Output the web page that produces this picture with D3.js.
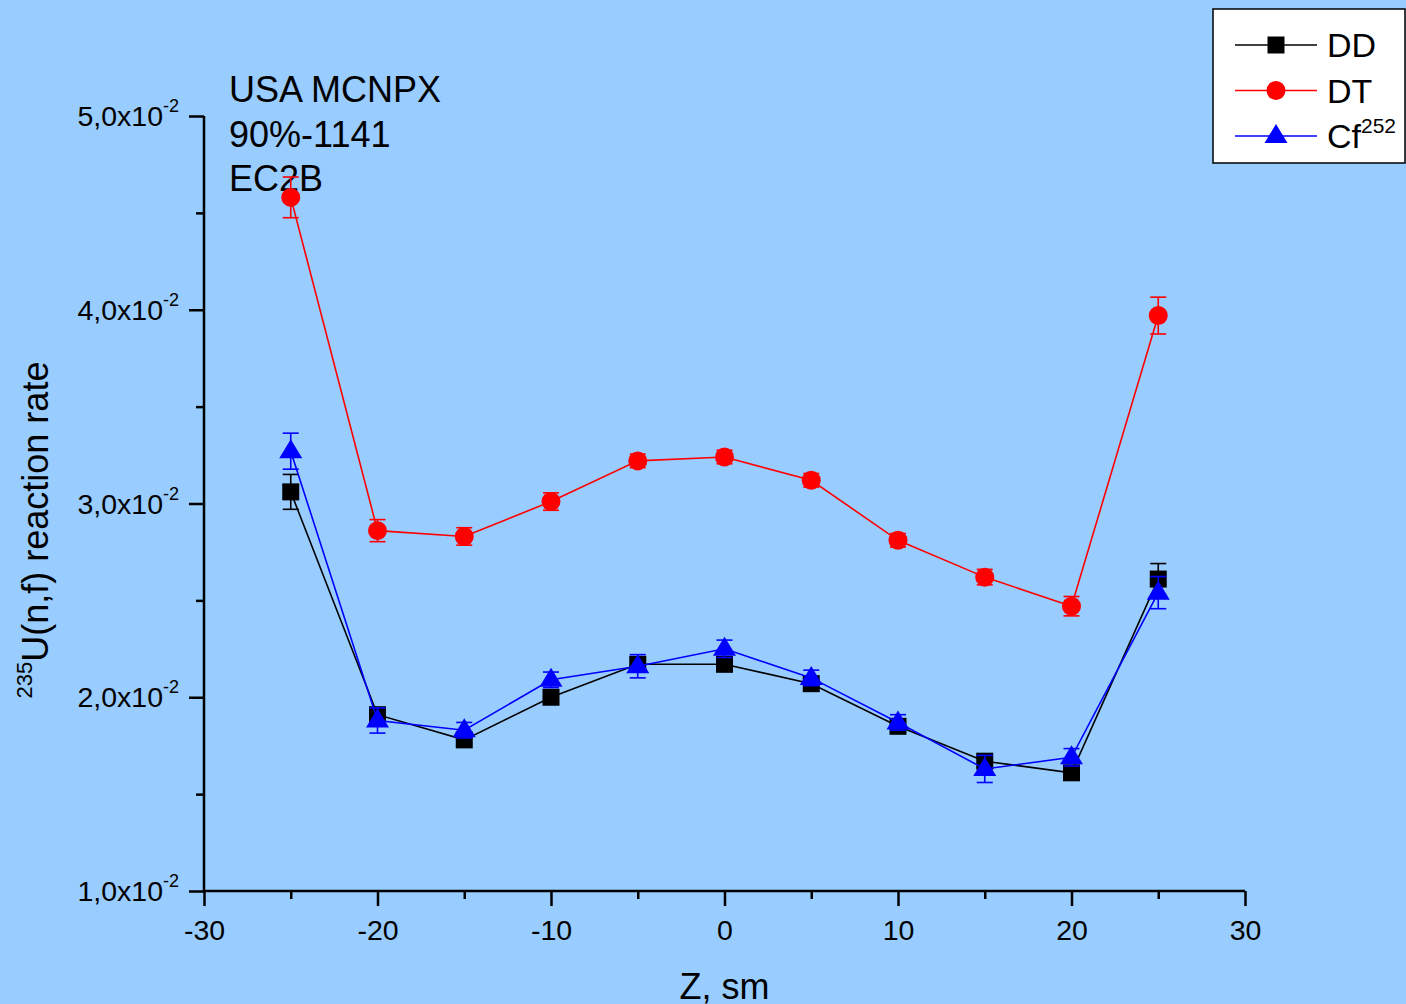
<!DOCTYPE html>
<html><head><meta charset="utf-8">
<script src="https://cdn.jsdelivr.net/npm/d3@7"></script>
<style>body{margin:0;background:#99ccff;}svg{display:block;font-family:"Liberation Sans",Arial,sans-serif;}</style>
</head><body>
<svg id="c" width="1406" height="1004"></svg>
<script>
const zPositions = [-25,-20,-15,-10,-5,0,5,10,15,20,25];
const ddValues = [3.06,1.91,1.78,2.00,2.17,2.17,2.07,1.85,1.67,1.61,2.61];
const ddErrors = [0.09,0.03,0.02,0.02,0.02,0.02,0.02,0.03,0.03,0.02,0.08];
const dtValues = [4.58,2.86,2.83,3.01,3.22,3.24,3.12,2.81,2.62,2.47,3.97];
const dtErrors = [0.105,0.057,0.045,0.045,0.035,0.035,0.035,0.035,0.04,0.05,0.095];
const cfValues = [3.27,1.88,1.83,2.09,2.16,2.25,2.10,1.87,1.63,1.69,2.54];
const cfErrors = [0.093,0.065,0.04,0.04,0.06,0.045,0.04,0.04,0.07,0.045,0.083];
const xTicks = [-30,-20,-10,0,10,20,30];
const yTicks = [1,2,3,4,5];
const yTickLabels = ["1,0x10","2,0x10","3,0x10","4,0x10","5,0x10"];
const annotation = ["USA MCNPX","90%-1141","EC2B"];
const seriesNames = ["DD","DT","Cf"];

const svg = d3.select("#c");
svg.append("rect").attr("width",1406).attr("height",1004).attr("fill","#99ccff");
const x = d3.scaleLinear().domain([-30,30]).range([204,1245]);
const y = d3.scaleLinear().domain([1,5]).range([891,116]);

// axes
const gx = svg.append("g").attr("transform","translate(0,891)")
  .call(d3.axisBottom(x).tickValues(d3.range(-25,30,10)).tickSize(8).tickFormat(""));
const gx2 = svg.append("g").attr("transform","translate(0,891)")
  .call(d3.axisBottom(x).tickValues(xTicks).tickSize(15).tickPadding(8).tickFormat(d=>String(d)));
gx2.selectAll("text").attr("font-size",28.5).attr("fill","#000").attr("font-family","Liberation Sans, Arial").attr("dy","0.9em");
[gx,gx2].forEach(g=>{g.select(".domain").remove();g.selectAll("line").attr("stroke","#000").attr("stroke-width",2.5);});
svg.append("line").attr("x1",x(-30)).attr("x2",x(30)).attr("y1",891).attr("y2",891).attr("stroke","#000").attr("stroke-width",2.5);

const gy = svg.append("g").attr("transform","translate(204,0)")
  .call(d3.axisLeft(y).tickValues(d3.range(1.5,5,1)).tickSize(8).tickFormat(""));
const gy2 = svg.append("g").attr("transform","translate(204,0)")
  .call(d3.axisLeft(y).tickValues(yTicks).tickSize(15).tickFormat(""));
[gy,gy2].forEach(g=>{g.select(".domain").remove();g.selectAll("line").attr("stroke","#000").attr("stroke-width",2.5);});
svg.append("line").attr("x1",204).attr("x2",204).attr("y1",y(5)).attr("y2",y(1)).attr("stroke","#000").attr("stroke-width",2.5);

yTicks.forEach((v,i)=>{
  const t = svg.append("text").attr("x",179).attr("y",y(v)+10).attr("text-anchor","end").attr("font-size",28.5);
  t.append("tspan").text(yTickLabels[i]);
  t.append("tspan").attr("font-size",18).attr("dy",-14).text("-2");
});

// axis titles
svg.append("text").attr("x",x(0)).attr("y",999).attr("text-anchor","middle").attr("font-size",36).text("Z, sm");
const yt = svg.append("text").attr("transform","translate(48,530) rotate(-90)").attr("text-anchor","middle").attr("font-size",36);
yt.append("tspan").attr("font-size",22).attr("dy",-16).text("235");
yt.append("tspan").attr("dy",16).text("U(n,f) reaction rate");

// annotation
annotation.forEach((s,i)=>svg.append("text").attr("x",229).attr("y",102+i*44.5).attr("font-size",36).text(s));

// series
const series = [
 {name:"DD",vals:ddValues,errs:ddErrors,color:"#000000",shape:"square"},
 {name:"DT",vals:dtValues,errs:dtErrors,color:"#ff0000",shape:"circle"},
 {name:"Cf",vals:cfValues,errs:cfErrors,color:"#0000ff",shape:"triangle"}
];
function drawMarker(g,shape,color,cx,cy){
  if(shape==="square") g.append("rect").attr("x",cx-8.5).attr("y",cy-8.5).attr("width",17).attr("height",17).attr("fill",color);
  else if(shape==="circle") g.append("circle").attr("cx",cx).attr("cy",cy).attr("r",9.5).attr("fill",color);
  else g.append("path").attr("d",`M${cx},${cy-12}L${cx+11.5},${cy+7}L${cx-11.5},${cy+7}Z`).attr("fill",color);
}
const line = d3.line().x(d=>x(d[0])).y(d=>y(d[1]));
series.forEach(s=>{
  const g = svg.append("g");
  const pts = zPositions.map((z,i)=>[z,s.vals[i],s.errs[i]]);
  g.append("path").attr("d",line(pts)).attr("fill","none").attr("stroke",s.color).attr("stroke-width",1.6);
  pts.forEach(p=>{
    const cx=x(p[0]), y1=y(p[1]+p[2]), y2=y(p[1]-p[2]);
    g.append("line").attr("x1",cx).attr("x2",cx).attr("y1",y1).attr("y2",y2).attr("stroke",s.color).attr("stroke-width",1.6);
    [y1,y2].forEach(yy=>g.append("line").attr("x1",cx-8).attr("x2",cx+8).attr("y1",yy).attr("y2",yy).attr("stroke",s.color).attr("stroke-width",1.6));
  });
  pts.forEach(p=>drawMarker(g,s.shape,s.color,x(p[0]),y(p[1])));
});

// legend
const lg = svg.append("g");
lg.append("rect").attr("x",1213).attr("y",9).attr("width",192).attr("height",154).attr("fill","#fff").attr("stroke","#000").attr("stroke-width",1.5);
series.forEach((s,i)=>{
  const cy = 45+i*45.5;
  lg.append("line").attr("x1",1235).attr("x2",1317).attr("y1",cy).attr("y2",cy).attr("stroke",s.color).attr("stroke-width",1.6);
  drawMarker(lg,s.shape,s.color,1276,cy);
  const t = lg.append("text").attr("x",1327).attr("y",cy+12).attr("font-size",34);
  if(s.name==="Cf"){ t.append("tspan").text("Cf"); t.append("tspan").attr("font-size",21).attr("dy",-15).text("252"); }
  else t.text(s.name);
});
</script>
</body></html>
